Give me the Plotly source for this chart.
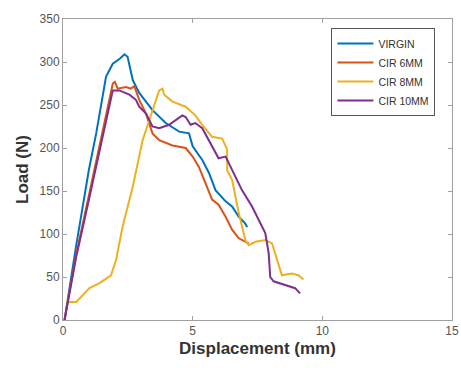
import plotly.graph_objects as go

virgin_x = [0.06, 0.5, 1.0, 1.28, 1.66, 1.92, 2.2, 2.37, 2.49, 2.69, 2.94, 3.45, 3.96, 4.48, 4.86, 5.0, 5.37, 5.63, 5.88, 6.27, 6.52, 6.78, 7.03, 7.1]
virgin_y = [0, 85, 175, 217, 283, 298, 304, 309, 306, 279, 264, 244, 229, 219, 217, 202, 186, 171, 151, 138, 132, 120, 112, 108]

cir6_x = [0.06, 0.5, 1.0, 1.5, 1.85, 1.92, 2.0, 2.11, 2.43, 2.62, 2.75, 2.94, 3.2, 3.45, 3.71, 4.22, 4.73, 5.0, 5.24, 5.5, 5.75, 6.0, 6.27, 6.52, 6.78, 7.16]
cir6_y = [0, 75, 145, 215, 265, 275, 277, 269, 271, 269, 272, 256, 240, 217, 209, 203, 200, 190, 178, 159, 140, 134, 120, 105, 95, 89]

cir8_x = [0.13, 0.51, 1.02, 1.41, 1.85, 2.05, 2.3, 2.69, 3.07, 3.45, 3.71, 3.84, 3.9, 4.22, 4.73, 5.1, 5.37, 5.75, 6.14, 6.33, 6.33, 6.52, 6.65, 6.78, 7.03, 7.16, 7.42, 7.8, 8.06, 8.31, 8.44, 8.82, 9.08, 9.27]
cir8_y = [21, 21, 37, 43, 52, 70, 109, 155, 209, 244, 267, 269, 262, 254, 248, 238, 227, 213, 211, 198, 174, 163, 143, 124, 93, 87, 91, 93, 89, 66, 52, 54, 52, 47]

cir10_x = [0.06, 0.5, 1.0, 1.5, 1.92, 2.17, 2.56, 2.81, 2.94, 3.2, 3.45, 3.71, 4.09, 4.6, 4.73, 4.92, 5.1, 5.37, 5.75, 6.0, 6.27, 6.52, 6.9, 7.29, 7.67, 7.8, 7.93, 7.99, 8.12, 8.57, 8.95, 9.14]
cir10_y = [0, 72, 140, 210, 267, 267, 262, 256, 248, 240, 225, 223, 227, 238, 236, 227, 229, 223, 202, 188, 190, 174, 151, 132, 109, 101, 78, 50, 45, 41, 37, 31]

series = [
    ("VIRGIN", virgin_x, virgin_y, "#0072BD"),
    ("CIR 6MM", cir6_x, cir6_y, "#D95319"),
    ("CIR 8MM", cir8_x, cir8_y, "#EDB120"),
    ("CIR 10MM", cir10_x, cir10_y, "#7E2F8E"),
]

fig = go.Figure()
for name, xs, ys, c in series:
    fig.add_trace(go.Scatter(x=xs, y=ys, mode="lines", name=name,
                             line=dict(color=c, width=2)))

axis_common = dict(
    showgrid=False, zeroline=False, showline=True, linecolor="#a0a0a0",
    linewidth=1, mirror="ticks", ticks="inside", ticklen=4, tickcolor="#a0a0a0",
    automargin=False, ticklabeloverflow="allow",
    tickfont=dict(family="Liberation Sans, Arial", size=12, color="#555555"),
)

fig.update_layout(
    width=461, height=370,
    margin=dict(l=63, r=9, t=19, b=50),
    paper_bgcolor="white", plot_bgcolor="white",
    xaxis=dict(range=[0, 15], tickvals=[0, 5, 10, 15],
               title=dict(text="<b>Displacement (mm)</b>", standoff=4,
                          font=dict(family="Liberation Sans, Arial", size=17, color="#333333")),
               **axis_common),
    yaxis=dict(range=[0, 350], tickvals=[0, 50, 100, 150, 200, 250, 300, 350],
               title=dict(text="<b>Load (N)</b>", standoff=6,
                          font=dict(family="Liberation Sans, Arial", size=17, color="#333333")),
               **axis_common),
    legend=dict(x=0.69, y=0.97, xanchor="left", yanchor="top",
                bgcolor="white", bordercolor="#555555", borderwidth=1,
                font=dict(family="Liberation Sans, Arial", size=10.5, color="#333333"),
                tracegroupgap=0, itemwidth=36),
    showlegend=True,
)

fig.write_html("out.html", config={"displayModeBar": False},
               post_script="document.body.style.margin='0';document.body.style.overflow='hidden';")
